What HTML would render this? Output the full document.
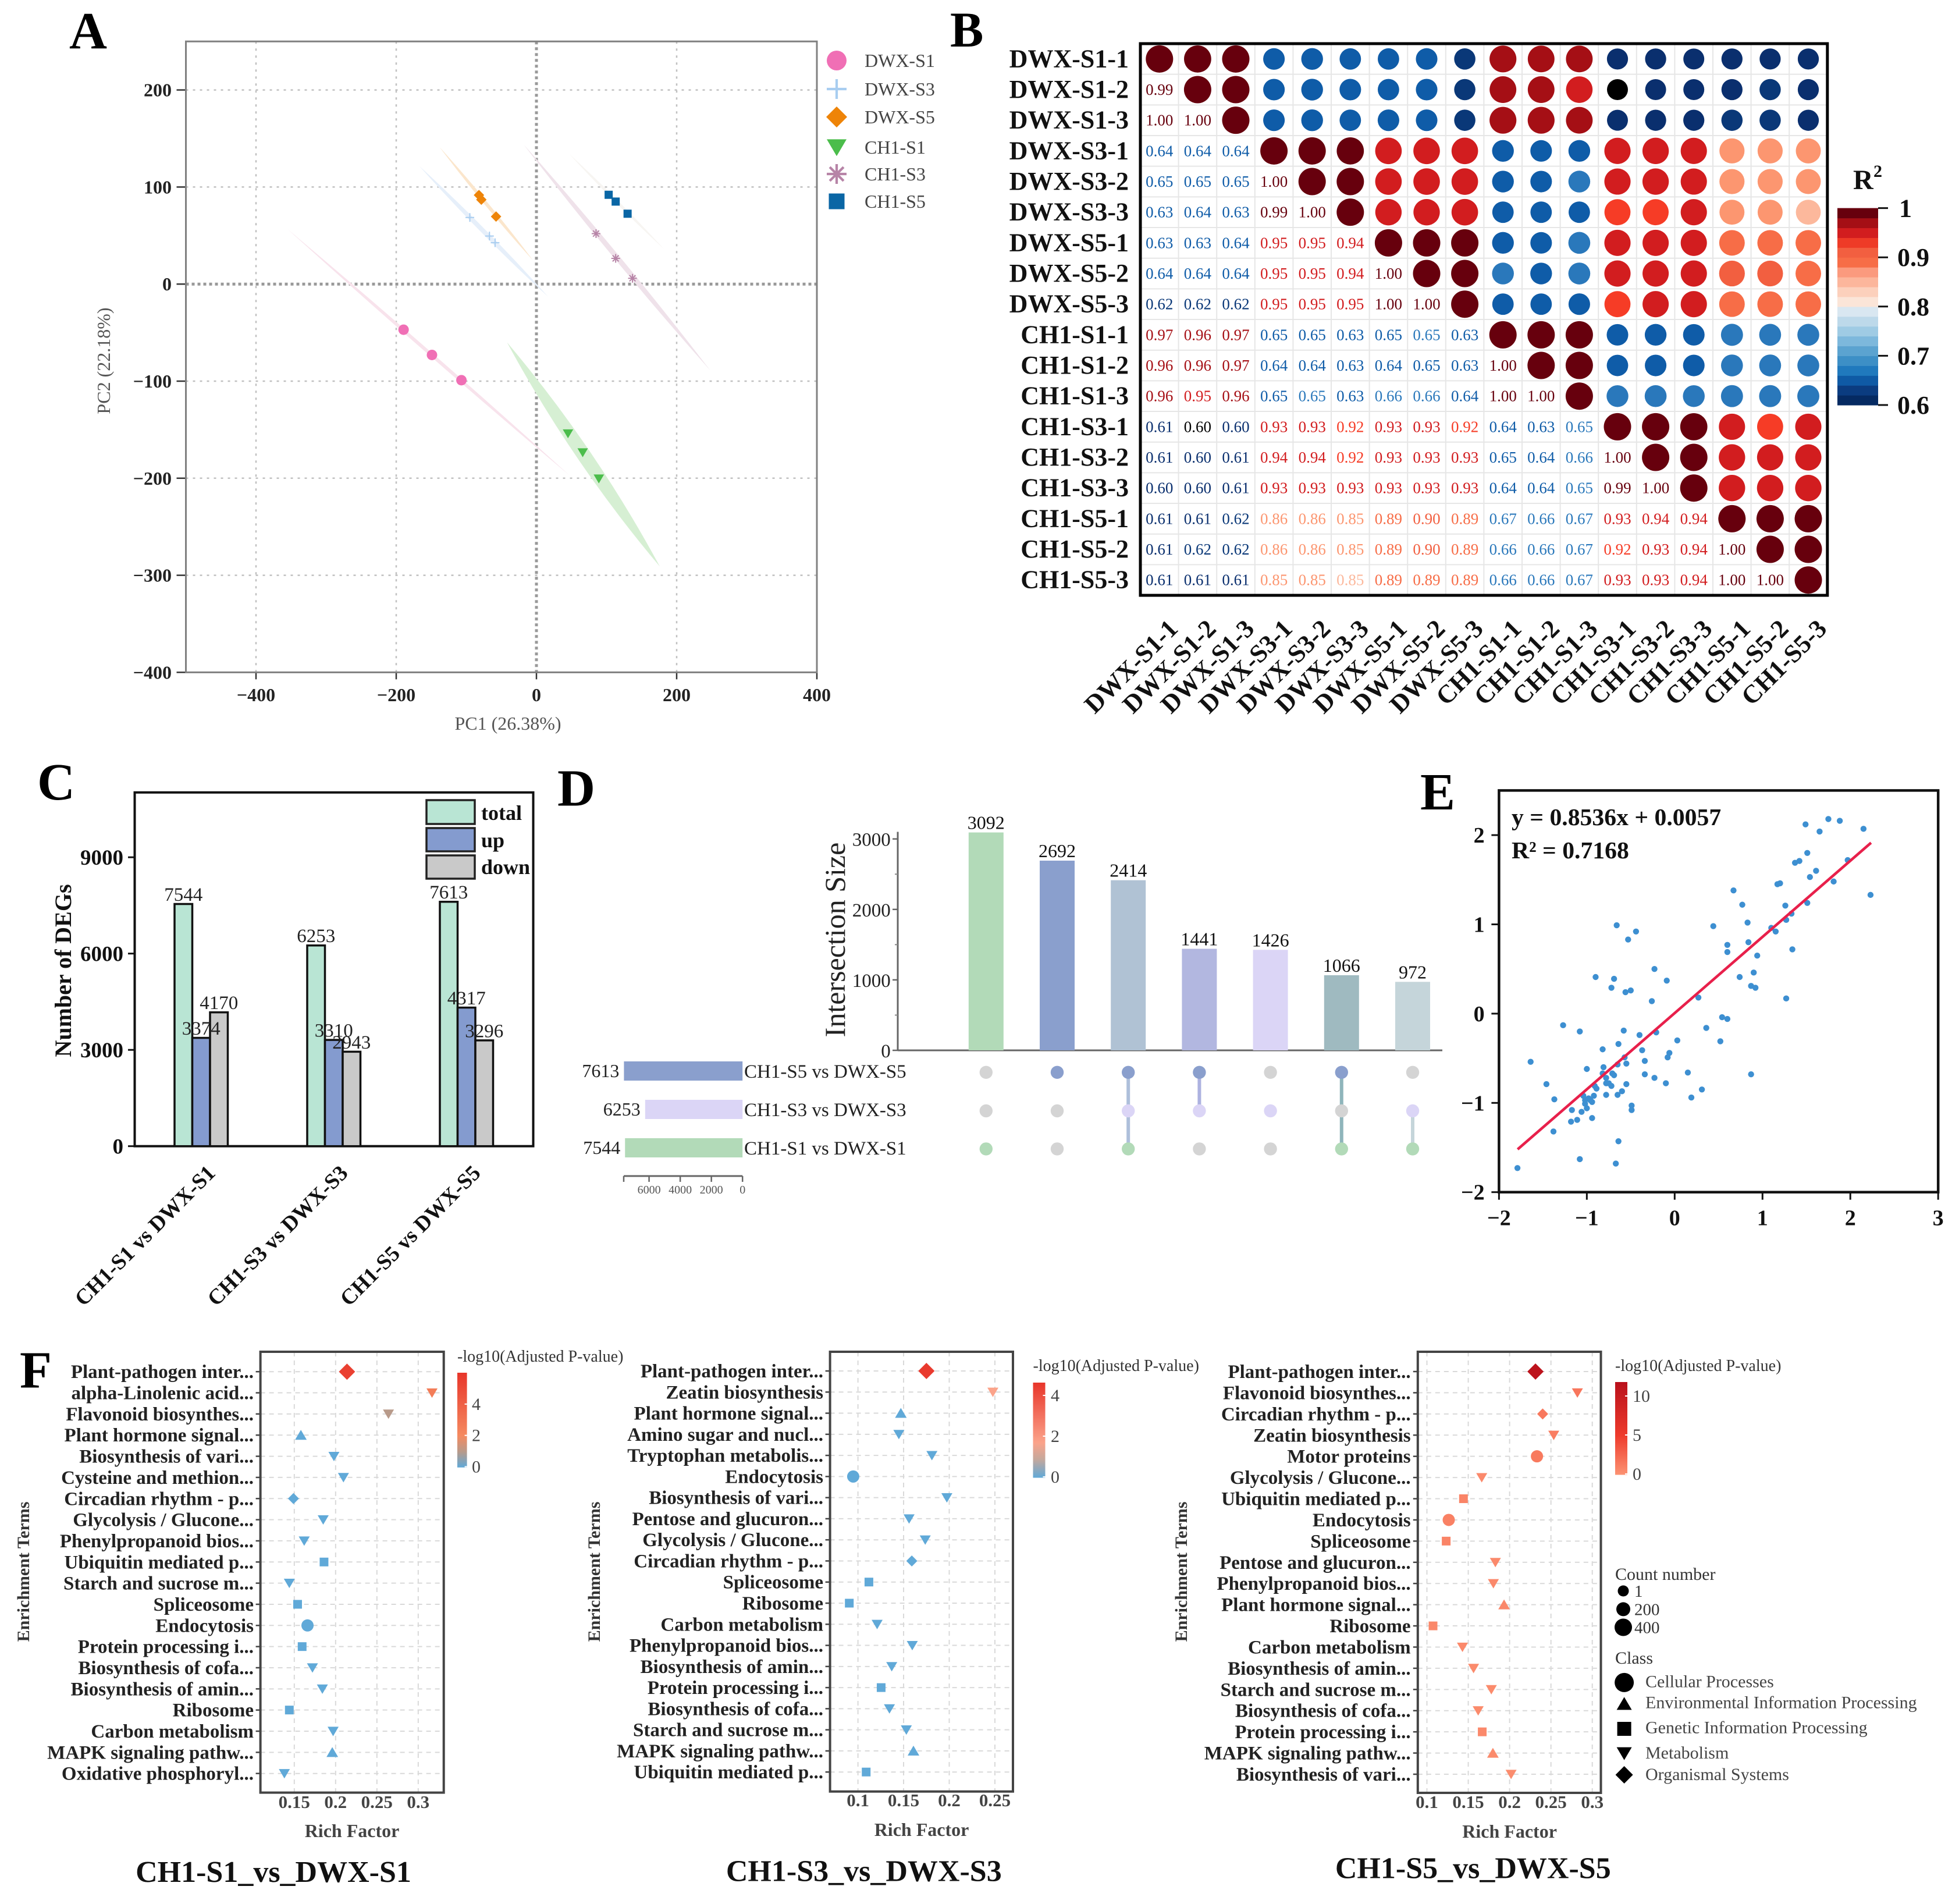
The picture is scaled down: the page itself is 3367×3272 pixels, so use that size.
<!DOCTYPE html>
<html lang="en">
<head>
<meta charset="utf-8">
<title>Transcriptome multi-panel figure</title>
<style>
html,body{margin:0;padding:0;background:#fff;}
svg{display:block;font-family:"Liberation Serif",serif;}
</style>
</head>
<body>
<svg id="figure" width="3367" height="3272" viewBox="0 0 3367 3272">
<defs id="defs"></defs>
<rect x="0" y="0" width="3367" height="3272" fill="#ffffff"></rect>
<g id="panelA"></g>
<g id="panelB"></g>
<g id="panelC"></g>
<g id="panelD"></g>
<g id="panelE"></g>
<g id="panelF"></g>
<g id="letters"></g>
</svg>
<script>
/* ---------- Panel A data ---------- */
const pcaGroups = ['DWX-S1','DWX-S3','DWX-S5','CH1-S1','CH1-S3','CH1-S5'];
const pcaX = [[-189.5,-149,-107],[-95,-67,-59],[-82,-78.6,-57.6],[45,66,89],[85,113,137],[103,113,130]];
const pcaY = [[-47,-73,-99],[68.6,49.5,42.6],[91.7,87,69.6],[-154,-173.5,-200.5],[52,26.5,6],[92,85,72.5]];
const ellipseX = [[-354.6,47],[-167,16.6],[-138,-5],[-42,176],[-18,248],[47,182]];
const ellipseY = [[56.4,-197],[121.6,-13],[141,24.5],[-60,-291],[143.6,-89],[134,36]];
const pcaXTicks = [-400,-200,0,200,400];
const pcaYTicks = [-400,-300,-200,-100,0,100,200];

/* ---------- Panel B data ---------- */
const sampleNames = ['DWX-S1-1','DWX-S1-2','DWX-S1-3','DWX-S3-1','DWX-S3-2','DWX-S3-3','DWX-S5-1','DWX-S5-2','DWX-S5-3','CH1-S1-1','CH1-S1-2','CH1-S1-3','CH1-S3-1','CH1-S3-2','CH1-S3-3','CH1-S5-1','CH1-S5-2','CH1-S5-3'];
const corrLower = [
[],
[.99],
[1,1],
[.64,.64,.64],
[.65,.65,.65,1],
[.63,.64,.63,.99,1],
[.63,.63,.64,.95,.95,.94],
[.64,.64,.64,.95,.95,.94,1],
[.62,.62,.62,.95,.95,.95,1,1],
[.97,.96,.97,.65,.65,.63,.65,.6549,.63],
[.96,.96,.97,.64,.64,.63,.64,.65,.63,1],
[.96,.95,.96,.65,.6549,.63,.66,.66,.64,1,1],
[.61,.599,.60,.93,.93,.92,.93,.93,.92,.64,.63,.6549],
[.61,.60,.61,.94,.94,.92,.93,.93,.93,.65,.64,.66,1],
[.60,.60,.61,.93,.93,.93,.93,.93,.93,.64,.64,.6549,.99,1],
[.61,.61,.62,.86,.86,.853,.89,.90,.89,.67,.66,.67,.93,.94,.94],
[.61,.62,.62,.86,.86,.853,.89,.90,.89,.66,.66,.67,.92,.93,.94,1],
[.61,.61,.61,.853,.853,.848,.89,.89,.89,.66,.66,.67,.93,.93,.94,1,1]
];
const corrTicks = [0.6,0.7,0.8,0.9,1];
const corrRamp = ['#0a2f6e','#0a3878','#0f5ca8','#2a78bb','#3d8fc6','#5ba3d0','#7db8dc','#9fcbe4','#bdd9ea','#d9e7f1','#fbe5d8','#fcd0bc','#fcb89c','#fc9670','#f76d47','#f25f40','#f63c26','#d21d1f','#a50f15','#67000d'];
const corrBreaks = [.615,.625,.654,.68,.70,.72,.74,.76,.78,.80,.82,.84,.85,.87,.895,.915,.925,.955,.98];

/* ---------- Panel C data ---------- */
const degCategories = ['CH1-S1 vs DWX-S1','CH1-S3 vs DWX-S3','CH1-S5 vs DWX-S5'];
const degTotal = [7544,6253,7613];
const degUp = [3374,3310,4317];
const degDown = [4170,2943,3296];
const degTicks = [0,3000,6000,9000];
const degLegend = ['total','up','down'];

/* ---------- Panel D data ---------- */
const setNames = ['CH1-S5 vs DWX-S5','CH1-S3 vs DWX-S3','CH1-S1 vs DWX-S1'];
const setSizes = [7613,6253,7544];
const intersectionSizes = [3092,2692,2414,1441,1426,1066,972];
const intersectionMembers = [[2],[0],[0,1,2],[0,1],[1],[0,2],[1,2]];
const upsetYTicks = [0,1000,2000,3000];
const upsetMinorTicks = [500,1500,2500];
const setAxisTicks = [0,2000,4000,6000];

/* ---------- Panel E data ---------- */
const regX = [-1.79,-1.64,-1.46,-1.38,-1.37,-1.27,-1.18,-1.17,-1.11,-1.08,-1.08,-1.06,-1.04,-1.02,-1.02,-1,-1,-.98,-.96,-.94,-.94,-.92,-.91,-.9,-.89,-.82,-.82,-.81,-.78,-.78,-.78,-.75,-.72,-.72,-.71,-.69,-.69,-.67,-.66,-.65,-.65,-.64,-.64,-.6,-.58,-.56,-.57,-.55,-.55,-.53,-.5,-.49,-.49,-.44,-.4,-.37,-.34,-.34,-.26,-.23,-.23,-.21,-.1,-.09,-.08,-.06,.03,.15,.19,.27,.31,.36,.44,.52,.54,.6,.6,.6,.67,.74,.77,.83,.84,.87,.87,.9,.92,.94,1.1,1.15,1.17,1.2,1.26,1.27,1.27,1.33,1.34,1.37,1.42,1.49,1.51,1.51,1.54,1.61,1.65,1.75,1.81,1.88,1.97,2.15,2.23];
const regY = [-1.73,-.54,-.79,-1.32,-.96,-.13,-1.21,-1.08,-1.19,-.2,-1.63,-1.1,-.92,-.97,-1.01,-.62,-1.06,-.95,-.97,-.99,-1.17,-.92,-.81,.41,-.84,-.4,-.67,-.6,-.72,-.91,-.78,-.78,.29,-.81,-.67,-.69,.39,-1.68,.99,-.91,-.57,-.34,-1.43,-.87,-.19,.24,-.49,-.56,-.79,.83,.26,-1.03,-1.08,.92,-.24,-.41,-.53,-.68,.14,-.72,.5,-.21,-.78,.37,-.49,-.44,-.3,-.66,-.94,.18,-.85,-.16,.98,-.31,-.04,-.06,.77,.69,1.38,.41,1.22,1.02,.8,.31,-.68,.46,.29,.65,.96,.92,1.45,1.46,1.21,1.05,.17,1.12,.72,1.69,1.71,2.12,1.8,1.24,1.53,1.6,2.04,2.18,1.48,2.16,1.72,2.07,1.33];
const regSlope = 0.8536;
const regIntercept = 0.0057;
const regLineX = [-1.788,2.236];
const regXTicks = [-2,-1,0,1,2,3];
const regYTicks = [-2,-1,0,1,2];

/* ---------- Panel F data ---------- */
const f1Terms = ['Plant-pathogen inter...','alpha-Linolenic acid...','Flavonoid biosynthes...','Plant hormone signal...','Biosynthesis of vari...','Cysteine and methion...','Circadian rhythm - p...','Glycolysis / Glucone...','Phenylpropanoid bios...','Ubiquitin mediated p...','Starch and sucrose m...','Spliceosome','Endocytosis','Protein processing i...','Biosynthesis of cofa...','Biosynthesis of amin...','Ribosome','Carbon metabolism','MAPK signaling pathw...','Oxidative phosphoryl...'];
const f1Rich = [.2138,.3167,.264,.158,.198,.2095,.149,.185,.162,.186,.144,.154,.166,.1595,.172,.184,.144,.197,.196,.138];
const f1Shapes = ['D','v','v','^','v','v','D','v','v','s','v','s','o','s','v','v','s','v','^','v'];
const f1Pval = [5.5,2.6,1,0,0,0,0,0,0,0,0,0,0,0,0,0,0,0,0,0];
const f1Ticks = [.15,.2,.25,.3];
const f1ColorTicks = [0,2,4];

const f2Terms = ['Plant-pathogen inter...','Zeatin biosynthesis','Plant hormone signal...','Amino sugar and nucl...','Tryptophan metabolis...','Endocytosis','Biosynthesis of vari...','Pentose and glucuron...','Glycolysis / Glucone...','Circadian rhythm - p...','Spliceosome','Ribosome','Carbon metabolism','Phenylpropanoid bios...','Biosynthesis of amin...','Protein processing i...','Biosynthesis of cofa...','Starch and sucrose m...','MAPK signaling pathw...','Ubiquitin mediated p...'];
const f2Rich = [.175,.2478,.147,.1448,.181,.0948,.1974,.156,.1737,.159,.112,.0905,.121,.1595,.137,.1254,.1345,.153,.1608,.109];
const f2Shapes = ['D','v','^','v','v','o','v','v','v','D','s','s','v','v','v','s','v','v','^','s'];
const f2Pval = [4.5,1.7,0,0,0,0,0,0,0,0,0,0,0,0,0,0,0,0,0,0];
const f2Ticks = [.1,.15,.2,.25];
const f2ColorTicks = [0,2,4];

const f3Terms = ['Plant-pathogen inter...','Flavonoid biosynthes...','Circadian rhythm - p...','Zeatin biosynthesis','Motor proteins','Glycolysis / Glucone...','Ubiquitin mediated p...','Endocytosis','Spliceosome','Pentose and glucuron...','Phenylpropanoid bios...','Plant hormone signal...','Ribosome','Carbon metabolism','Biosynthesis of amin...','Starch and sucrose m...','Biosynthesis of cofa...','Protein processing i...','MAPK signaling pathw...','Biosynthesis of vari...'];
const f3Rich = [.2313,.282,.24,.2534,.2331,.1663,.1442,.1264,.1233,.1828,.1804,.1933,.1074,.143,.1564,.1779,.162,.1669,.1798,.2018];
const f3Shapes = ['D','v','D','v','o','v','s','o','s','v','v','^','s','v','v','v','v','s','^','v'];
const f3Pval = [11.3,1.6,1.5,1.2,1.4,.5,.8,1,.8,.5,.5,.6,.6,.5,.4,.4,.4,.5,.4,.3];
const f3Ticks = [.1,.15,.2,.25,.3];
const f3ColorTicks = [0,5,10];

const countLegend = [1,200,400];
const classLegend = ['Cellular Processes','Environmental Information Processing','Genetic Information Processing','Metabolism','Organismal Systems'];
const classShapes = ['o','^','s','v','D'];
const panelLetters = ['A','B','C','D','E','F'];

/* ---------- Helpers ---------- */
const SVGNS = 'http://www.w3.org/2000/svg';
const figure = document.getElementById('figure');
function make(tag, attrs, parent) {
  const n = document.createElementNS(SVGNS, tag);
  for (const k in attrs) n.setAttribute(k, attrs[k]);
  (parent || figure).appendChild(n);
  return n;
}
function seg(p, x1, y1, x2, y2, stroke, w, dash) {
  const a = {x1:x1, y1:y1, x2:x2, y2:y2, stroke:stroke, 'stroke-width':w};
  if (dash) a['stroke-dasharray'] = dash;
  return make('line', a, p);
}
function box(p, x, y, w, h, fill, stroke, sw) {
  return make('rect', {x:x, y:y, width:w, height:h, fill:fill, stroke:stroke || 'none', 'stroke-width':sw || 0}, p);
}
function label(p, x, y, str, size, o) {
  o = o || {};
  const t = make('text', {x:x, y:y, 'font-size':size, 'text-anchor':o.anchor || 'start', 'font-weight':o.weight || 'normal', fill:o.fill || '#111'}, p);
  if (o.rot !== undefined) t.setAttribute('transform', 'rotate(' + o.rot + ' ' + x + ' ' + y + ')');
  t.textContent = str;
  return t;
}
function marker(p, shape, cx, cy, h, fill) {
  if (shape === 'o') return make('circle', {cx:cx, cy:cy, r:h, fill:fill}, p);
  if (shape === 's') return make('rect', {x:cx-h, y:cy-h, width:2*h, height:2*h, fill:fill}, p);
  if (shape === 'D') return make('polygon', {points:[cx-h,cy,cx,cy-h,cx+h,cy,cx,cy+h].join(' '), fill:fill}, p);
  if (shape === '^') return make('polygon', {points:[cx-h,cy+h*.8,cx+h,cy+h*.8,cx,cy-h*.9].join(' '), fill:fill}, p);
  if (shape === 'v') return make('polygon', {points:[cx-h,cy-h*.8,cx+h,cy-h*.8,cx,cy+h*.9].join(' '), fill:fill}, p);
  if (shape === '+') return make('path', {d:'M'+(cx-h)+' '+cy+'H'+(cx+h)+'M'+cx+' '+(cy-h)+'V'+(cy+h), stroke:fill, 'stroke-width':Math.max(2,h/4), fill:'none'}, p);
  const d = h*.7;
  return make('path', {d:'M'+(cx-h)+' '+cy+'H'+(cx+h)+'M'+cx+' '+(cy-h)+'V'+(cy+h)+'M'+(cx-d)+' '+(cy-d)+'L'+(cx+d)+' '+(cy+d)+'M'+(cx-d)+' '+(cy+d)+'L'+(cx+d)+' '+(cy-d), stroke:fill, 'stroke-width':Math.max(2,h/4), fill:'none'}, p);
}
function minus(v) { return String(v).replace('-', '\u2212'); }
function mixHex(a, b, t) {
  const pa = [1,3,5].map(i => parseInt(a.substr(i,2),16));
  const pb = [1,3,5].map(i => parseInt(b.substr(i,2),16));
  return 'rgb(' + pa.map((c,i) => Math.round(c+(pb[i]-c)*t)).join(',') + ')';
}

/* ---------- Panel A ---------- */
(function () {
  const p = document.getElementById('panelA');
  const X = v => 922 + 1.205 * v;
  const Y = v => 488.2 - 1.668 * v;
  const L = X(-500), R = X(400), T = Y(250), B = Y(-400);
  const colors = ['#f06fb5','#a8cdf0','#ee8408','#4bbd4b','#b784a7','#0a66a5'];
  const shapes = ['o','+','D','v','*','s'];
  const ellFill = ['#f8e3ec','#e6effa','#fbe6cc','#d6efd3','#efe2ea','#f7f5f2'];
  const ellHalf = [3,4,3,12,4.5,2.5];
  const sizes = [9,7.5,9,9,7.5,7];
  const legendSizes = [17,17,18,17,17,13.5];
  const legendY = [104,153,201,253,299,346];

  pcaXTicks.forEach(v => {
    const g = seg(p, X(v), T, X(v), B, v === 0 ? '#999999' : '#c0c0c0', v === 0 ? 5 : 2.5, v === 0 ? '5 5' : '4 8');
    
    
    const k = seg(p, X(v), B, X(v), B + 12, '#333333', 2.5);
    
    
    const t = label(p, X(v), 1205, minus(v), 32, {anchor:'middle', weight:'bold', fill:'#222'});
    
    
  });
  pcaYTicks.forEach(v => {
    if (v !== -400) {
      const g = seg(p, L, Y(v), R, Y(v), v === 0 ? '#999999' : '#c0c0c0', v === 0 ? 5 : 2.5, v === 0 ? '5 5' : '4 8');
      
      
    }
    const k = seg(p, L - 16, Y(v), L, Y(v), '#333333', 2.5);
    
    
    const t = label(p, 295, Y(v) + 11, minus(v), 32, {anchor:'end', weight:'bold', fill:'#222'});
    
    
  });
  const frame = box(p, L, T, R - L, B - T, 'none', '#808080', 3);
  
  

  pcaGroups.forEach((name, i) => {
    const x1 = X(ellipseX[i][0]), x2 = X(ellipseX[i][1]);
    const y1 = Y(ellipseY[i][0]), y2 = Y(ellipseY[i][1]);
    const cx = (x1 + x2) / 2, cy = (y1 + y2) / 2;
    const nx = -(y2 - y1) / Math.hypot(x2 - x1, y2 - y1), ny = (x2 - x1) / Math.hypot(x2 - x1, y2 - y1);
    const off = ellHalf[i] * 2;
    const d = 'M' + x1 + ' ' + y1 + 'Q' + (cx + nx * off) + ' ' + (cy + ny * off) + ' ' + x2 + ' ' + y2 + 'Q' + (cx - nx * off) + ' ' + (cy - ny * off) + ' ' + x1 + ' ' + y1 + 'Z';
    const e = make('path', {d:d, fill:ellFill[i]}, p);
    
    
  });
  pcaGroups.forEach((name, i) => {
    pcaX[i].forEach((xv, j) => {
      const m = marker(p, shapes[i], X(xv), Y(pcaY[i][j]), sizes[i], colors[i]);
      
      
    });
    const lm = marker(p, shapes[i], 1438, legendY[i], legendSizes[i], colors[i]);
    
    
    const lt = label(p, 1486, legendY[i] + 11, name, 32, {fill:'#444'});
    
    
  });
  const xt = label(p, 873, 1254, 'PC1 (26.38%)', 32, {anchor:'middle', fill:'#555'});
  
  
  const yt = label(p, 189, 620, 'PC2 (22.18%)', 32, {anchor:'middle', fill:'#555', rot:-90});
  
  
})();

/* ---------- Panel B ---------- */
(function () {
  const p = document.getElementById('panelB');
  const L = 1960, T = 75, cw = 65.6, ch = 52.67, n = sampleNames.length;
  const value = (r, c) => r === c ? 1 : (r > c ? corrLower[r][c] : corrLower[c][r]);
  const color = v => {
    if (v < 0.6) return '#000000';
    let idx = 0;
    while (idx < corrBreaks.length && v >= corrBreaks[idx]) idx++;
    return corrRamp[idx];
  };
  const radius = v => 18 + (v - 0.6) / 0.4 * 5.5;
  for (let i = 0; i <= n; i++) {
    const a = seg(p, L + i * cw, T, L + i * cw, T + n * ch, '#e6e6e6', 2);
    
    
    const b = seg(p, L, T + i * ch, L + n * cw, T + i * ch, '#e6e6e6', 2);
    
    
  }
  sampleNames.forEach((name, r) => {
    const rl = label(p, 1940, T + (r + .5) * ch + 14, name, 44, {anchor:'end', weight:'bold'});
    
    
    const cl = label(p, L + (r + .5) * cw + 34, 1083, name, 44, {anchor:'end', weight:'bold', rot:-45});
    
    
    sampleNames.forEach((other, c) => {
      const v = value(r, c);
      const cx = L + (c + .5) * cw, cy = T + (r + .5) * ch;
      if (c >= r) {
        const d = make('circle', {cx:cx, cy:cy, r:radius(v), fill:color(v)}, p);
        
        
      } else {
        const t = label(p, cx, cy + 9, v.toFixed(2), 27, {anchor:'middle', fill:color(v)});
        
        
      }
    });
  });
  const frame = box(p, L, T, n * cw, n * ch, 'none', '#000000', 5);
  
  
  const cbT = 357.6, cbB = 696, cbL = 3158, cbW = 70;
  const barColors = ['#052a62','#0b3c80','#0f5aa5','#2079bd','#3d8fc6','#5ba3d0','#7db8dc','#9fcbe4','#bdd9ea','#d9e7f1','#fbe5d8','#fcd0bc','#fcb69c','#fb9a7e','#f76d47','#f25f40','#ee3b27','#d21d1f','#a50f15','#67000d'];
  barColors.forEach((c, i) => {
    const h = (cbB - cbT) / barColors.length;
    const r = box(p, cbL, cbB - (i + 1) * h, cbW, h + .6, c);
    
    
  });
  corrTicks.forEach(v => {
    const y = cbB - (v - 0.6) / 0.4 * (cbB - cbT);
    const k = seg(p, cbL + cbW, y, cbL + cbW + 17, y, '#111111', 3);
    
    
    const t = label(p, v === 1 ? 3264 : 3261, y + 15, String(v), 44, {weight:'bold'});
    
    
  });
  const rt = label(p, 3185, 325, 'R', 48, {weight:'bold'});
  
  
  const rs = label(p, 3220, 304, '2', 30, {weight:'bold'});
  
  
})();

/* ---------- Panel C ---------- */
(function () {
  const p = document.getElementById('panelC');
  const L = 231.5, R = 916.5, T = 1361.8, B = 1969.7;
  const Y = v => B - v * 165.5 / 3000;
  const series = [degTotal, degUp, degDown];
  const fills = ['#b9e5d4','#849bcf','#c9c9c9'];
  const frame = box(p, L, T, R - L, B - T, 'none', '#111111', 4);
  
  
  degTicks.forEach(v => {
    const k = seg(p, 220, Y(v), L, Y(v), '#111111', 3);
    
    
    const t = label(p, 212, Y(v) + 13, String(v), 37, {anchor:'end', weight:'bold'});
    
    
  });
  degCategories.forEach((name, g) => {
    const x0 = 300 + g * 228;
    series.forEach((vals, s) => {
      const x = x0 + s * 30.5;
      const b = box(p, x, Y(vals[g]), 30.5, B - Y(vals[g]), fills[s], '#111111', 3.5);
      
      
    });
    series.forEach((vals, s) => {
      const x = x0 + s * 30.5;
      const t = label(p, x + 15.25, Y(vals[g]) - 5.5, String(vals[g]), 33, {anchor:'middle', fill:'#222'});
      
      
    });
    const c = label(p, 372 + g * 228, 2018, name, 37.5, {anchor:'end', weight:'bold', rot:-45});
    
    
  });
  const legY = [1375,1423,1470], legH = [41,40,40], legB = [1409,1456,1502];
  degLegend.forEach((name, i) => {
    const r = box(p, 733, legY[i], 83, legH[i], fills[i], '#222222', 3.5);
    
    
    const t = label(p, 827, legB[i], name, 36, {weight:'bold'});
    
    
  });
  const yt = label(p, 122, 1668, 'Number of DEGs', 40, {anchor:'middle', weight:'bold', rot:-90});
  
  
})();

/* ---------- Panel D ---------- */
(function () {
  const p = document.getElementById('panelD');
  const Y = v => 1805 - v * 363.3 / 3000;
  const cx = i => 1694.8 + i * 122.2;
  const rowY = [1842.8,1909,1974.4];
  const rowColor = ['#8a9fcd','#dbd5f6','#b2dab8'];
  const barColor = ['#b2dab8','#8a9fcd','#b0c2d4','#b2b7e0','#dbd5f6','#9fbac0','#c5d5da'];
  const linkColor = ['#b2dab8','#8a9fcd','#aebfdb','#adb2e0','#dbd5f6','#8fb5bb','#c5d5da'];
  const barRowY = [1824,1890,1956];
  const SX = v => 1276.2 - v * 0.02677;

  const yaxis = seg(p, 1543, 1429.5, 1543, 1805, '#666666', 3);
  
  
  const xaxis = seg(p, 1543, 1805, 2479, 1805, '#666666', 3);
  
  
  upsetYTicks.forEach(v => {
    const k = seg(p, 1534, Y(v), 1543, Y(v), '#666666', 2.5);
    
    
    const t = label(p, 1530.7, Y(v) + 12, String(v), 33, {anchor:'end', fill:'#222'});
    
    
  });
  upsetMinorTicks.forEach(v => {
    const k = seg(p, 1538, Y(v), 1543, Y(v), '#888888', 2);
    
    
  });
  const yt = label(p, 1452, 1615, 'Intersection Size', 50, {anchor:'middle', fill:'#222', rot:-90});
  
  

  intersectionSizes.forEach((v, i) => {
    const b = box(p, cx(i) - 30, Y(v), 60, 1805 - Y(v), barColor[i]);
    
    
    const t = label(p, cx(i), Y(v) - 6, String(v), 32, {anchor:'middle', fill:'#111'});
    
    
    const members = intersectionMembers[i];
    if (members.length > 1) {
      const l = seg(p, cx(i), rowY[members[0]], cx(i), rowY[members[members.length - 1]], linkColor[i], 6);
      
      
    }
    rowY.forEach((y, r) => {
      const active = members.indexOf(r) >= 0;
      const d = make('circle', {cx:cx(i), cy:y, r:11.2, fill:active ? rowColor[r] : '#d4d4d4'}, p);
      
      
    });
  });
  setNames.forEach((name, r) => {
    const b = box(p, SX(setSizes[r]), barRowY[r], 1276.2 - SX(setSizes[r]), 33, rowColor[r]);
    
    
    const v = label(p, SX(setSizes[r]) - 8, barRowY[r] + 27, String(setSizes[r]), 32, {anchor:'end', fill:'#222'});
    
    
    const t = label(p, 1279, barRowY[r] + 28, name, 33, {fill:'#222'});
    
    
  });
  const sa = seg(p, 1072, 2021, 1276.2, 2021, '#666666', 3);
  
  
  const se = seg(p, 1072, 2021, 1072, 2031, '#666666', 2.5);
  
  
  setAxisTicks.forEach(v => {
    const k = seg(p, SX(v), 2021, SX(v), 2031, '#666666', 2.5);
    
    
    const t = label(p, SX(v), 2051, String(v), 20, {anchor:'middle', fill:'#555'});
    
    
  });
})();

/* ---------- Panel E ---------- */
(function () {
  const p = document.getElementById('panelE');
  const X = v => 2878.3 + v * 150.96;
  const Y = v => 1741.9 - v * 153.4;
  const frame = box(p, X(-2), Y(2.5), X(3) - X(-2), Y(-2) - Y(2.5), 'none', '#111111', 4.5);
  
  
  regXTicks.forEach(v => {
    const k = seg(p, X(v), Y(-2), X(v), Y(-2) + 13, '#111111', 3);
    
    
    const t = label(p, X(v), 2105.7, minus(v), 38, {anchor:'middle', weight:'bold'});
    
    
  });
  regYTicks.forEach(v => {
    const k = seg(p, X(-2) - 13, Y(v), X(-2), Y(v), '#111111', 3);
    
    
    const t = label(p, 2551.6, Y(v) + 13, minus(v), 38, {anchor:'end', weight:'bold'});
    
    
  });
  regX.forEach((xv, i) => {
    const d = make('circle', {cx:X(xv), cy:Y(regY[i]), r:5.2, fill:'#3d8fd1'}, p);
    
    
  });
  const fit = seg(p, X(regLineX[0]), Y(regSlope * regLineX[0] + regIntercept), X(regLineX[1]), Y(regSlope * regLineX[1] + regIntercept), '#e8204b', 4.6);
  
  
  const eq = label(p, 2598, 1418, 'y = 0.8536x + 0.0057', 41.7, {weight:'bold'});
  
  
  const r2 = label(p, 2598, 1475, 'R\u00B2 = 0.7168', 41.7, {weight:'bold'});
  
  
})();

/* ---------- Panel F ---------- */
const enrichPanels = [
  {id:'f1', terms:f1Terms, rich:f1Rich, shapes:f1Shapes, pval:f1Pval, ticks:f1Ticks, cticks:f1ColorTicks, title:'CH1-S1_vs_DWX-S1',
   L:447.6, R:762.7, T:2323, B:3080.6, row0:2357.2, row1:3047.7, t0:.15, px0:505.8, k:1420, labelR:436, yTitleX:50, tickY:3107, richX:605, richY:3157, titleX:470, titleY:3234,
   cbTitleX:786, cbTitleY:2340, cbL:786, cbW:16.6, cbT:2359, cbB:2521.8, c0:2520.5, cPer:26.9, cLabelX:811, cMax:6,
   stops:[[0,'#60a9d8'],[1,'#b89a8a'],[2,'#f58a60'],[6,'#e8352a']]},
  {id:'f2', terms:f2Terms, rich:f2Rich, shapes:f2Shapes, pval:f2Pval, ticks:f2Ticks, cticks:f2ColorTicks, title:'CH1-S3_vs_DWX-S3',
   L:1426.6, R:1741, T:2323, B:3078.7, row0:2356, row1:3045.2, t0:.1, px0:1474.6, k:1569, labelR:1415, yTitleX:1031, tickY:3104, richX:1584, richY:3155, titleX:1484.8, titleY:3232.5,
   cbTitleX:1775.5, cbTitleY:2356, cbL:1775.5, cbW:21, cbT:2376, cbB:2539.5, c0:2538, cPer:35, cLabelX:1806, cMax:4.63,
   stops:[[0,'#60a9d8'],[.9,'#c5a89c'],[1.7,'#fba38a'],[4.63,'#e8352a']]},
  {id:'f3', terms:f3Terms, rich:f3Rich, shapes:f3Shapes, pval:f3Pval, ticks:f3Ticks, cticks:f3ColorTicks, title:'CH1-S5_vs_DWX-S5',
   L:2436.8, R:2751.5, T:2323, B:3081, row0:2357, row1:3049, t0:.1, px0:2452.5, k:1421, labelR:2424.6, yTitleX:2040, tickY:3107, richX:2594.6, richY:3158, titleX:2531.8, titleY:3227.5,
   cbTitleX:2776, cbTitleY:2356, cbL:2776, cbW:21, cbT:2375, cbB:2534.5, c0:2533, cPer:13.4, cLabelX:2806, cMax:11.8,
   stops:[[0,'#fc9272'],[5,'#ee3b2c'],[11.8,'#b9101b']]}
];
function enrichColor(stops, v) {
  for (let i = 1; i < stops.length; i++) {
    if (v <= stops[i][0]) {
      const t = (v - stops[i-1][0]) / (stops[i][0] - stops[i-1][0]);
      return mixHex(stops[i-1][1], stops[i][1], t);
    }
  }
  return stops[stops.length - 1][1];
}
(function () {
  const root = document.getElementById('panelF');
  const defs = document.getElementById('defs');
  const baseHalf = {D:9.5, v:9.5, '^':10, s:7.5, o:10.5};
  enrichPanels.forEach(cfg => {
    const p = make('g', {}, root);
    
    
    const X = v => cfg.px0 + (v - cfg.t0) * cfg.k;
    const rowY = i => cfg.row0 + i * (cfg.row1 - cfg.row0) / (cfg.terms.length - 1);

    cfg.ticks.forEach(v => {
      const g = seg(p, X(v), cfg.T, X(v), cfg.B, '#d9d9d9', 2, '8 7');
      
      
      const t = label(p, X(v), cfg.tickY, String(v), 31, {anchor:'middle', weight:'bold', fill:'#444'});
      
      
    });
    cfg.terms.forEach((term, i) => {
      const y = rowY(i);
      const g = seg(p, cfg.L, y, cfg.R, y, '#d9d9d9', 2, '8 7');
      
      
      const k = seg(p, cfg.L - 8, y, cfg.L, y, '#444444', 2.5);
      
      
      const t = label(p, cfg.labelR, y + 11, term, 33, {anchor:'end', weight:'bold', fill:'#222'});
      
      
    });
    const frame = box(p, cfg.L, cfg.T, cfg.R - cfg.L, cfg.B - cfg.T, 'none', '#444444', 4);
    
    
    cfg.terms.forEach((term, i) => {
      const h = i === 0 ? 14 : baseHalf[cfg.shapes[i]];
      const m = marker(p, cfg.shapes[i], X(cfg.rich[i]), rowY(i), h, enrichColor(cfg.stops, cfg.pval[i]));
      
      
    });
    const et = label(p, cfg.yTitleX, 2701, 'Enrichment Terms', 30, {anchor:'middle', weight:'bold', fill:'#333', rot:-90});
    
    
    const rf = label(p, cfg.richX, cfg.richY, 'Rich Factor', 32, {anchor:'middle', weight:'bold', fill:'#444'});
    
    
    const tt = label(p, cfg.titleX, cfg.titleY, cfg.title, 52, {anchor:'middle', weight:'bold'});
    
    
    const ct = label(p, cfg.cbTitleX, cfg.cbTitleY, '-log10(Adjusted P-value)', 28, {fill:'#333'});
    
    

    const grad = make('linearGradient', {id:'grad-' + cfg.id, x1:0, y1:1, x2:0, y2:0}, defs);
    cfg.stops.forEach(s => {
      make('stop', {offset:s[0] / cfg.cMax, 'stop-color':s[1]}, grad);
    });
    const cb = box(p, cfg.cbL, cfg.cbT, cfg.cbW, cfg.cbB - cfg.cbT, 'url(#grad-' + cfg.id + ')');
    
    
    cfg.cticks.forEach(v => {
      const y = cfg.c0 - v * cfg.cPer;
      const k = seg(p, cfg.cbL + cfg.cbW - 4, y, cfg.cbL + cfg.cbW, y, '#ffffff', 2);
      
      
      const t = label(p, cfg.cLabelX, y + 10, String(v), 30, {fill:'#444'});
      
      
    });
  });

  const cn = label(root, 2776, 2715, 'Count number', 30, {fill:'#333'});
  
  
  const countY = [2734,2765.4,2796.5], countR = [9.5,12,15];
  countLegend.forEach((v, i) => {
    const d = make('circle', {cx:2790, cy:countY[i], r:countR[i], fill:'#000000'}, root);
    
    
    const t = label(root, 2809, countY[i] + 10, String(v), 29, {fill:'#333'});
    
    
  });
  const cl = label(root, 2776, 2859, 'Class', 30, {fill:'#333'});
  
  
  const classMarkY = [2891.4,2928,2971,3013,3050], classTextY = [2889.5,2925.6,2968.6,3012,3049], classHalf = [16.5,13,12,13,15];
  classLegend.forEach((name, i) => {
    const m = marker(root, classShapes[i], 2791.6, classMarkY[i], classHalf[i], '#000000');
    
    
    const t = label(root, 2828, classTextY[i] + 10, name, 30, {fill:'#444'});
    
    
  });
})();

/* ---------- Panel letters ---------- */
(function () {
  const p = document.getElementById('letters');
  const lx = [119,1633,64,958,2441,34], ly = [83,80,1374,1384.6,1391,2384.4], ls = [90,86,90,90,90,90];
  panelLetters.forEach((ch, i) => {
    const t = label(p, lx[i], ly[i], ch, ls[i], {weight:'bold', fill:'#000'});
    
    
  });
})();
</script>
</body>
</html>
